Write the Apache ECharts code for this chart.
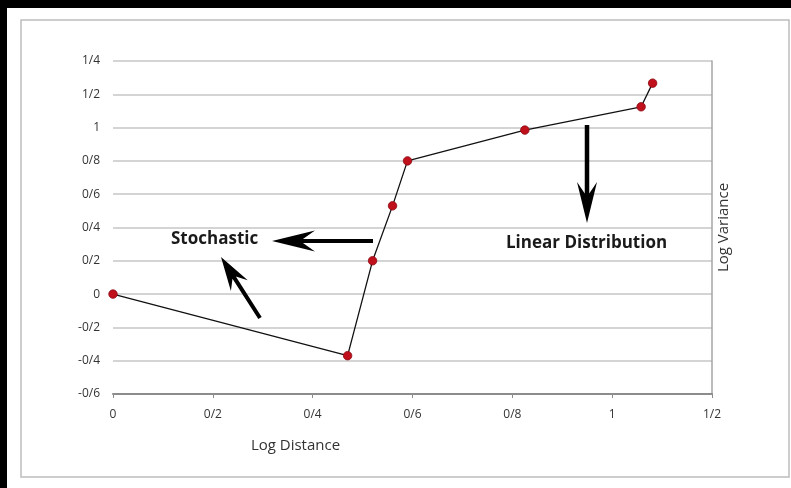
<!DOCTYPE html>
<html>
<head>
<meta charset="utf-8">
<script src="https://cdn.jsdelivr.net/npm/echarts@6/dist/echarts.min.js"></script>
<style>
  html, body { margin: 0; padding: 0; background: #fff; }
  #chart { width: 791px; height: 488px; }
</style>
</head>
<body>
<div id="chart"></div>
<script>
// data
var logDistance = [0, 0.47, 0.52, 0.56, 0.59, 0.825, 1.058, 1.081];
var logVariance = [0, -0.37, 0.2, 0.53, 0.8, 0.985, 1.125, 1.267];
var xTickLabels = ['0', '0/2', '0/4', '0/6', '0/8', '1', '1/2'];
var yTickLabels = ['-0/6', '-0/4', '-0/2', '0', '0/2', '0/4', '0/6', '0/8', '1', '1/2', '1/4'];

var points = logDistance.map(function (x, i) { return [x, logVariance[i]]; });

// arrow polygon from tail to tip, barbed head
function arrow(tail, tip, sw, headLen, hw) {
    var dx = tip[0] - tail[0], dy = tip[1] - tail[1];
    var len = Math.sqrt(dx * dx + dy * dy);
    var ux = dx / len, uy = dy / len;
    var nx = -uy, ny = ux;
    function p(along, off) {
        return [tip[0] - ux * along + nx * off, tip[1] - uy * along + ny * off];
    }
    return [
        tip,
        p(headLen, hw),
        p(headLen * 0.72, sw / 2),
        [tail[0] + nx * sw / 2, tail[1] + ny * sw / 2],
        [tail[0] - nx * sw / 2, tail[1] - ny * sw / 2],
        p(headLen * 0.72, -sw / 2),
        p(headLen, -hw)
    ];
}

var chart = echarts.init(document.getElementById('chart'));
var labelFont = { color: '#333', fontSize: 12, fontFamily: 'Open Sans' };

chart.setOption({
    animation: false,
    backgroundColor: '#fff',
    grid: { left: 113, right: 79, top: 61, bottom: 94 },
    xAxis: {
        type: 'value',
        min: 0, max: 1.2, interval: 0.2,
        name: 'Log Distance',
        nameLocation: 'middle',
        nameGap: 44,
        nameTextStyle: { color: '#333', fontSize: 15, fontFamily: 'Open Sans', padding: [0, 234, 0, 0] },
        axisLine: { onZero: false, lineStyle: { color: '#8c8c8c', width: 2 } },
        axisTick: { show: true, length: 4, lineStyle: { color: '#8c8c8c' } },
        axisLabel: Object.assign({ margin: 15, formatter: function (v) { return xTickLabels[Math.round(v / 0.2)]; } }, labelFont),
        splitLine: { show: false }
    },
    yAxis: [{
        type: 'value',
        min: -0.6, max: 1.4, interval: 0.2,
        position: 'left',
        axisLine: { show: false },
        axisTick: { show: false },
        axisLabel: Object.assign({ margin: 13, formatter: function (v) { return yTickLabels[Math.round((v + 0.6) / 0.2)]; } }, labelFont),
        splitLine: { lineStyle: { color: '#c6c6c6', width: 1.5 } }
    }, {
        type: 'value',
        min: -0.6, max: 1.4, interval: 0.2,
        position: 'right',
        name: 'Log Variance',
        nameLocation: 'middle',
        nameRotate: 90,
        nameGap: 4,
        nameTextStyle: { color: '#333', fontSize: 15, fontFamily: 'Open Sans' },
        axisLine: { show: true, lineStyle: { color: '#a6a6a6', width: 1.5 } },
        axisTick: { show: false },
        axisLabel: { show: false },
        splitLine: { show: false }
    }],
    series: [{
        type: 'line',
        data: points,
        symbol: 'circle',
        symbolSize: 8.5,
        lineStyle: { color: '#111', width: 1.3 },
        itemStyle: { color: '#c0101c', borderColor: '#8a0a12', borderWidth: 0.8 },
        z: 5
    }],
    graphic: [
        { type: 'rect', shape: { x: 0, y: 0, width: 791, height: 8 }, style: { fill: '#000' } },
        { type: 'rect', shape: { x: 0, y: 0, width: 7, height: 488 }, style: { fill: '#000' } },
        { type: 'rect', shape: { x: 21, y: 20, width: 768, height: 457 }, style: { fill: 'none', stroke: '#bdbdbd', lineWidth: 1.5 }, silent: true },
        { type: 'polygon', shape: { points: arrow([373, 241], [272, 241], 4, 43, 10.5) }, style: { fill: '#000' }, z: 10 },
        { type: 'polygon', shape: { points: arrow([260, 318], [221, 257], 4, 34, 10) }, style: { fill: '#000' }, z: 10 },
        { type: 'polygon', shape: { points: arrow([587, 125], [587, 223], 4.5, 41, 10) }, style: { fill: '#000' }, z: 10 },
        { type: 'text', x: 171, y: 239, style: { text: 'Stochastic', fill: '#1a1a1a', font: 'bold 17px "Open Sans"', textVerticalAlign: 'middle' }, z: 10 },
        { type: 'text', x: 506, y: 243, style: { text: 'Linear Distribution', fill: '#1a1a1a', font: 'bold 17px "Open Sans"', textVerticalAlign: 'middle' }, z: 10 }
    ]
});
</script>
</body>
</html>
